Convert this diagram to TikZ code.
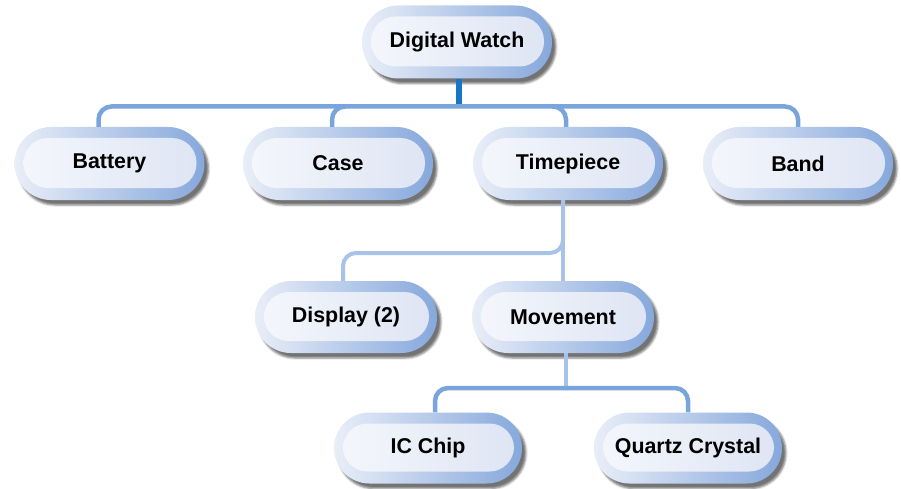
\documentclass[tikz,border=0pt]{standalone}
\usepackage{fontspec}
\setmainfont{Liberation Sans}
\usetikzlibrary{shapes.misc,shadows.blur}

\definecolor{ringL}{HTML}{E9EEF8}
\definecolor{ringM}{HTML}{D6DFF1}
\definecolor{ringR}{HTML}{86A8DC}
\definecolor{coreL}{HTML}{F5F7FC}
\definecolor{coreR}{HTML}{DDE4F3}
\definecolor{trunkblue}{HTML}{7AA5DC}
\definecolor{paleblue}{HTML}{A9C3E8}
\definecolor{stubblue}{HTML}{1877C5}

\tikzset{
  pill/.style={
    rounded rectangle, minimum height=73pt, minimum width=190pt,
    inner sep=0pt, text=black,
    font=\fontsize{21.4}{25}\selectfont\bfseries,
    left color=ringL, middle color=ringM, right color=ringR,
    blur shadow={shadow xshift=4pt, shadow yshift=-5pt,
                 shadow blur radius=2pt, shadow opacity=55},
    path picture={
      \shade[left color=coreL, right color=coreR, rounded corners=24.5pt]
        ([xshift=9pt,yshift=-11pt]path picture bounding box.north west)
        rectangle ([xshift=-8pt,yshift=12pt]path picture bounding box.south east);
    }
  },
  midpill/.style={pill, minimum width=182pt, minimum height=72pt},
  lowpill/.style={pill, minimum width=188pt, minimum height=71pt},
  trunk/.style={draw=trunkblue, line width=4.5pt, rounded corners=13pt},
  pale/.style={draw=paleblue, line width=4pt, rounded corners=13pt},
  stub/.style={draw=stubblue, line width=6pt}
}

\begin{document}
\begin{tikzpicture}[x=1pt,y=-1pt]
\useasboundingbox (0,0) rectangle (901,489);

% levels of the horizontal rails
\coordinate (rail1) at (0,106.5);
\coordinate (rail2) at (0,253);
\coordinate (rail3) at (0,388);
\coordinate (stubx) at (459,0);

\node[pill] (root) at (457,42) {Digital Watch};
\node[pill] (battery) at (109.5,163.5) {Battery};
\node[pill] (case) at (338,163.5) {Case};
\node[pill] (timepiece) at (568,163.5) {Timepiece};
\node[pill] (band) at (798,163.5) {Band};
\node[midpill] (display) at (346,317) {Display (2)};
\node[midpill] (movement) at (563,317) {Movement};
\node[lowpill] (icchip) at (428,448) {IC Chip};
\node[lowpill] (quartz) at (688,448) {Quartz Crystal};

% stub under the root
\draw[stub] (root.south -| stubx) -- (stubx |- rail1);

% top rail to the four parts
\draw[trunk] ([xshift=-11pt]battery.north) -- ([xshift=-11pt]battery.north |- rail1)
  -- (band.north |- rail1) -- (band.north);
\draw[trunk] ([xshift=8pt]case.north |- rail1) -- ([xshift=-6pt]case.north |- rail1)
  -- ([xshift=-6pt]case.north);
\draw[trunk] ([xshift=-16pt]timepiece.north |- rail1) -- ([xshift=-2pt]timepiece.north |- rail1)
  -- ([xshift=-2pt]timepiece.north);

% timepiece to display and movement
\draw[pale] (movement.north |- timepiece.south) -- (movement.north);
\draw[pale] (movement.north |- timepiece.south) -- (movement.north |- rail2)
  -- ([xshift=-3pt]display.north |- rail2) -- ([xshift=-3pt]display.north);

% movement to its two parts
\draw[pale] ([xshift=3pt]movement.south) -- ([xshift=3pt]movement.south |- rail3);
\draw[trunk] ([xshift=7pt]icchip.north) -- ([xshift=7pt]icchip.north |- rail3)
  -- (quartz.north |- rail3) -- (quartz.north);
\end{tikzpicture}
\end{document}
